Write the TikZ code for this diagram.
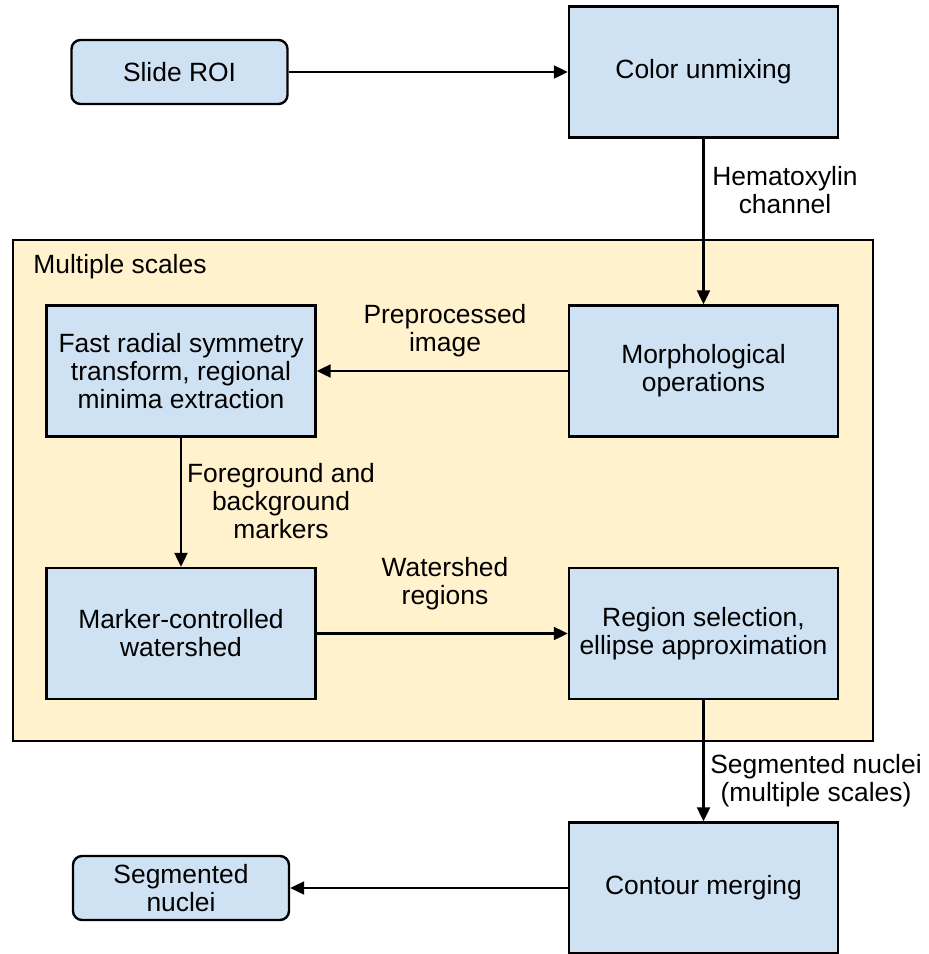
\documentclass[tikz,border=0pt]{standalone}
\usepackage{fontspec}
\setmainfont{Liberation Sans}
\usetikzlibrary{arrows.meta}
\definecolor{boxblue}{HTML}{CFE2F3}
\definecolor{panelyellow}{HTML}{FFF2CC}
\tikzset{
  every node/.style={font=\fontsize{13.2}{14}\selectfont, align=center, inner sep=0pt},
  procbox/.style={draw=black, line width=1.2pt, fill=boxblue, minimum width=134.5pt, minimum height=65.5pt},
  termbox/.style={draw=black, line width=1.2pt, fill=boxblue, rounded corners=4.5pt, minimum width=108pt, minimum height=32pt},
  panel/.style={draw=black, line width=1.2pt, fill=panelyellow, minimum width=430pt, minimum height=250.5pt},
  flow/.style={line width=1.1pt, -{Triangle[length=7pt,width=6.5pt]}},
  lbl/.style={}
}
\begin{document}
\begin{tikzpicture}[x=0.5pt,y=-0.5pt]
\useasboundingbox (0,0) rectangle (928,954);
\node[panel] (scales) at (443,490.5) {};
\node[anchor=west] (mslabel) at (33,267) {Multiple scales};

\node[termbox] (roi) at (179.5,72) {Slide ROI};
\node[procbox] (cu) at (703.5,72) {Color unmixing};
\node[procbox] (fr) at (181,371) {Fast radial symmetry\\transform, regional\\minima extraction};
\node[procbox] (mo) at (703.5,371) {Morphological\\operations};
\node[procbox] (mw) at (181,633.5) {Marker-controlled\\watershed};
\node[procbox] (rs) at (703.5,633.5) {Region selection,\\ellipse approximation};
\node[procbox] (cm) at (703.5,888) {Contour merging};
\node[termbox] (sn) at (181,888) {Segmented\\nuclei};

\draw[flow] (roi.east) -- (cu.west);
\draw[flow] (cu.south) -- (mo.north);
\draw[flow] (mo.west) -- (fr.east);
\draw[flow] (fr.south) -- (mw.north);
\draw[flow] (mw.east) -- (rs.west);
\draw[flow] (rs.south) -- (cm.north);
\draw[flow] (cm.west) -- (sn.east);

\node[lbl] (lhem) at (785,190) {Hematoxylin\\channel};
\node[lbl] (lpre) at (445,331) {Preprocessed\\image};
\node[lbl] (lfg) at (281,501) {Foreground and\\background\\markers};
\node[lbl] (lws) at (445,584) {Watershed\\regions};
\node[lbl] (lseg) at (816,781) {Segmented nuclei\\(multiple scales)};
\end{tikzpicture}
\end{document}
